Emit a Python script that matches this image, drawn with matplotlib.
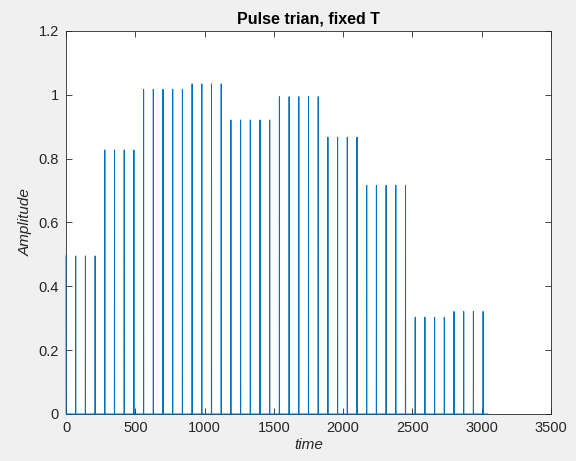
import numpy as np
import matplotlib.pyplot as plt

plt.rcParams['font.family'] = ['Liberation Sans', 'DejaVu Sans']

# pulse times (fixed period) and heights
pulse_t = [0, 70, 140, 210, 280, 350, 420, 490, 560, 630, 700, 770, 840,
           910, 980, 1050, 1120, 1190, 1260, 1330, 1400, 1470, 1540, 1610,
           1680, 1750, 1820, 1890, 1960, 2030, 2100, 2170, 2240, 2310, 2380,
           2450, 2520, 2590, 2660, 2730, 2800, 2870, 2940, 3010]
pulse_amp = [0.495, 0.495, 0.495, 0.495,
             0.827, 0.827, 0.827, 0.827,
             1.017, 1.017, 1.017, 1.017, 1.017,
             1.034, 1.034, 1.034, 1.034,
             0.921, 0.921, 0.921, 0.921, 0.921,
             0.994, 0.994, 0.994, 0.994, 0.994,
             0.867, 0.867, 0.867, 0.867,
             0.716, 0.716, 0.716, 0.716, 0.716,
             0.303, 0.303, 0.303, 0.303,
             0.321, 0.321, 0.321, 0.321]
t_end = 3045

# build the sampled signal: zero everywhere except one sample per pulse
tt = [0.0]
yy = [0.0]
for t, a in zip(pulse_t, pulse_amp):
    if t > 0:
        tt += [t - 1, t]
        yy += [0, a]
    else:
        yy[0] = a
    tt.append(t + 1)
    yy.append(0)
tt.append(t_end)
yy.append(0)

fig = plt.figure(figsize=(5.76, 4.61), dpi=100, facecolor='#f0f0f0')
ax = fig.add_axes([0.1146, 0.102, 0.842, 0.831])
ax.plot(tt, yy, color='#0072bd', lw=0.7, snap=False, clip_on=False, zorder=3)

ax.set_xlim(0, 3500)
ax.set_ylim(0, 1.2)
ax.set_xticks(np.arange(0, 3501, 500))
ax.set_yticks([0, 0.2, 0.4, 0.6, 0.8, 1.0, 1.2])
ax.set_yticklabels(['0', '0.2', '0.4', '0.6', '0.8', '1', '1.2'])
ax.tick_params(direction='in', top=True, right=True, length=4, width=0.6,
               colors='#262626', labelsize=10.5, pad=5)
for s in ax.spines.values():
    s.set_color('#262626')
    s.set_linewidth(0.6)

ax.set_title('Pulse trian, fixed T', fontsize=11.5, fontweight='bold', pad=5)
ax.set_xlabel('time', fontsize=11, style='italic', color='#262626', labelpad=2)
ax.set_ylabel('Amplitude', fontsize=11, style='italic', color='#262626', labelpad=4)

fig.savefig('out.png', dpi=100, facecolor=fig.get_facecolor())
